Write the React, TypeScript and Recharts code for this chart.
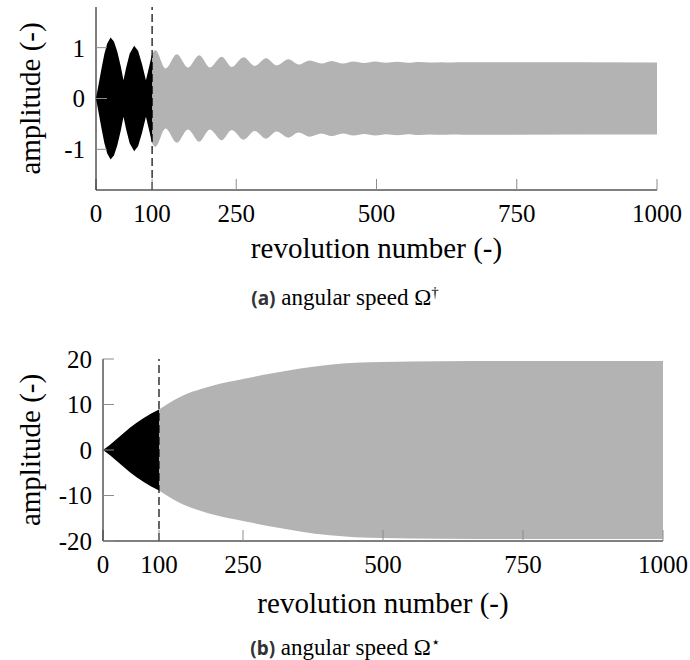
import { ComposedChart, Area, XAxis, YAxis, ReferenceLine, Label } from "recharts";

const serif = '"Liberation Serif", "Times New Roman", serif';
const tickGray = "#8c8c8c";

const revTicks = [0, 100, 250, 500, 750, 1000];
const switchRev = 100;

// (a) angular speed Ω† : upper envelope of the amplitude, lower half mirrors it
const runupRevA = [0, 5, 10, 15, 20, 26, 32, 38, 44, 49, 54, 60, 68, 75, 82, 89, 95, 100];
const runupAmpA = [0, 0.3, 0.6, 0.88, 1.08, 1.2, 1.12, 0.92, 0.64, 0.36, 0.62, 0.88, 1.04, 0.94, 0.68, 0.36, 0.64, 0.88];
const steadyRevA = [
  100, 106, 124, 144, 164, 184, 203, 224, 242, 263, 283, 303, 322, 343, 361, 381, 402, 420, 440, 459, 478, 498,
  517, 537, 556, 576, 595, 615, 635, 654, 1000,
];
const steadyAmpA = [
  0.88, 0.95, 0.59, 0.87, 0.61, 0.85, 0.61, 0.82, 0.62, 0.81, 0.64, 0.79, 0.65, 0.77, 0.67, 0.75, 0.69, 0.74, 0.69,
  0.73, 0.7, 0.73, 0.705, 0.725, 0.705, 0.72, 0.708, 0.715, 0.71, 0.712, 0.71,
];
const ampTicksA = [-1, 0, 1];

// (b) angular speed Ω⋆
const runupRevB = [0, 12, 24, 36, 48, 60, 72, 86, 100];
const runupAmpB = [0, 1.1, 2.35, 3.65, 4.9, 6.0, 7.0, 8.0, 8.9];
const steadyRevB = [100, 125, 143, 175, 200, 250, 300, 352, 405, 450, 500, 600, 750, 1000];
const steadyAmpB = [8.9, 10.8, 12.0, 13.4, 14.3, 15.6, 16.8, 17.9, 18.75, 19.15, 19.35, 19.5, 19.55, 19.55];
const ampTicksB = [-20, -10, 0, 10, 20];

type Row = { rev: number; runup?: number[]; steady?: number[] };

function buildRows(runRev: number[], runAmp: number[], stRev: number[], stAmp: number[]) {
  const rows = new Map<number, Row>();
  runRev.forEach((r, i) => rows.set(r, { rev: r, runup: [-runAmp[i], runAmp[i]] }));
  stRev.forEach((r, i) => rows.set(r, { ...(rows.get(r) ?? { rev: r }), steady: [-stAmp[i], stAmp[i]] }));
  return [...rows.values()].sort((a, b) => a.rev - b.rev);
}

type PanelProps = {
  rows: Row[];
  top: number;
  height: number;
  margin: { top: number; right: number; left: number; bottom: number };
  yAxisWidth: number;
  xAxisHeight: number;
  yDomain: number[];
  yTicks: number[];
  xLabelOffset: number;
};

const Panel = ({ rows, top, height, margin, yAxisWidth, xAxisHeight, yDomain, yTicks, xLabelOffset }: PanelProps) => {
  const tickFont = { fill: "#000", fontSize: 25, fontFamily: serif };
  const titleStyle = { fontSize: 29, fontFamily: serif, fill: "#000" };
  return (
    <div style={{ position: "absolute", left: 0, top }}>
      <ComposedChart width={690} height={height} data={rows} margin={margin}>
        <Area
          xAxisId="b"
          yAxisId="l"
          dataKey="steady"
          type="monotone"
          stroke="none"
          fill="#b3b3b3"
          fillOpacity={1}
          isAnimationActive={false}
          activeDot={false}
        />
        <Area
          xAxisId="b"
          yAxisId="l"
          dataKey="runup"
          type="linear"
          stroke="none"
          fill="#000"
          fillOpacity={1}
          isAnimationActive={false}
          activeDot={false}
        />
        <ReferenceLine xAxisId="b" yAxisId="l" x={switchRev} stroke="#000" strokeWidth={1.2} strokeDasharray="8 4" />
        <XAxis
          xAxisId="b"
          dataKey="rev"
          type="number"
          domain={[0, 1000]}
          ticks={revTicks}
          interval={0}
          allowDataOverflow
          orientation="bottom"
          height={xAxisHeight}
          tickSize={-11}
          tickMargin={25}
          tickLine={{ stroke: tickGray }}
          axisLine={{ stroke: "#000" }}
          tick={tickFont}
        >
          <Label value="revolution number (-)" position="insideTop" offset={xLabelOffset} style={titleStyle} />
        </XAxis>
        <XAxis
          xAxisId="t"
          dataKey="rev"
          type="number"
          domain={[0, 1000]}
          ticks={revTicks}
          interval={0}
          allowDataOverflow
          orientation="top"
          height={0}
          tickSize={-11}
          tickLine={{ stroke: tickGray }}
          axisLine={{ stroke: "#000" }}
          tick={false}
        />
        <YAxis
          yAxisId="l"
          type="number"
          domain={yDomain}
          ticks={yTicks}
          interval={0}
          allowDataOverflow
          width={yAxisWidth}
          tickSize={-11}
          tickMargin={22}
          tickLine={{ stroke: tickGray }}
          axisLine={{ stroke: "#000" }}
          tick={tickFont}
        >
          <Label
            value="amplitude (-)"
            angle={-90}
            position="insideLeft"
            offset={30}
            style={{ ...titleStyle, textAnchor: "middle" }}
          />
        </YAxis>
        <YAxis
          yAxisId="r"
          orientation="right"
          type="number"
          domain={yDomain}
          ticks={yTicks}
          interval={0}
          allowDataOverflow
          width={0}
          tickSize={-11}
          tickLine={{ stroke: tickGray }}
          axisLine={{ stroke: "#000" }}
          tick={false}
        />
      </ComposedChart>
    </div>
  );
};

const Caption = ({ top, tag, mark }: { top: number; tag: string; mark: string }) => (
  <div
    style={{
      position: "absolute",
      left: 0,
      top,
      width: 690,
      textAlign: "center",
      fontSize: 23,
      lineHeight: "22px",
      color: "#000",
    }}
  >
    <span style={{ fontFamily: '"Noto Sans", sans-serif', fontWeight: 700, color: "#333", fontSize: 19 }}>({tag})</span>
    <span style={{ fontFamily: serif }}>
      {" "}angular speed Ω<span style={{ fontSize: 15, position: "relative", top: -8 }}>{mark}</span>
    </span>
  </div>
);

export default function App() {
  const rowsA = buildRows(runupRevA, runupAmpA, steadyRevA, steadyAmpA);
  const rowsB = buildRows(runupRevB, runupAmpB, steadyRevB, steadyAmpB);
  return (
    <div style={{ position: "absolute", left: 0, top: 0, width: 690, height: 660, background: "#fff" }}>
      <Panel
        rows={rowsA}
        top={0}
        height={280}
        margin={{ top: 7, right: 33, left: 0, bottom: 0 }}
        yAxisWidth={96}
        xAxisHeight={90}
        yDomain={[-1.8, 1.8]}
        yTicks={ampTicksA}
        xLabelOffset={47}
      />
      <Caption top={287} tag="a" mark="†" />
      <Panel
        rows={rowsB}
        top={340}
        height={290}
        margin={{ top: 19, right: 27, left: 0, bottom: 0 }}
        yAxisWidth={103}
        xAxisHeight={89}
        yDomain={[-20, 20]}
        yTicks={ampTicksB}
        xLabelOffset={51}
      />
      <Caption top={637} tag="b" mark="⋆" />
    </div>
  );
}
